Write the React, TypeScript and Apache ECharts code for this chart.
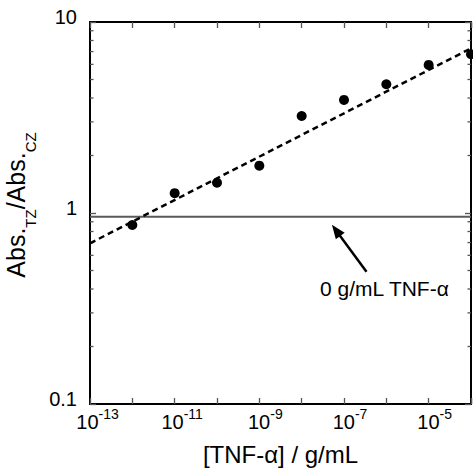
import React, { useEffect, useRef } from 'react';
import * as echarts from 'echarts';

// ---- data ----
const concentrations = [1e-12, 1e-11, 1e-10, 1e-9, 1e-8, 1e-7, 1e-6, 1e-5, 1e-4];
const ratios = [0.865, 1.27, 1.44, 1.77, 3.22, 3.91, 4.72, 5.96, 6.78];
const fitX = [1e-13, 1e-4];
const fitY = [0.694, 7.28];
const blankLevel = 0.957;
const xRange = [1e-13, 1e-4];
const yRange = [0.1, 10];
const yMinorTicks = [0.2, 0.3, 0.4, 0.5, 0.6, 0.7, 0.8, 0.9, 2, 3, 4, 5, 6, 7, 8, 9];
const arrowTail = [3.4e-7, 0.493];
const arrowHead = [6.5e-8, 0.81];
const annotationText = '0 g/mL TNF-α';
const xTitle = '[TNF-α] / g/mL';

const FONT = '"Liberation Sans", Arial, sans-serif';

export default function App() {
  const ref = useRef<HTMLDivElement>(null);

  useEffect(() => {
    if (!ref.current) return;
    const chart = echarts.init(ref.current, undefined, { renderer: 'svg' });

    const commonX = {
      type: 'log' as const,
      logBase: 10,
      min: xRange[0],
      max: xRange[1],
      splitLine: { show: false },
      axisLine: { show: true, onZero: false, lineStyle: { color: '#000', width: 2 } },
      axisTick: { show: true, inside: true, length: 6, lineStyle: { color: '#555', width: 1.3 } },
      minorTick: { show: false },
    };
    const commonY = {
      type: 'log' as const,
      logBase: 10,
      min: yRange[0],
      max: yRange[1],
      splitLine: { show: false },
      axisLine: { show: true, onZero: false, lineStyle: { color: '#000', width: 2 } },
      axisTick: { show: true, inside: true, length: 6, lineStyle: { color: '#555', width: 1.3 } },
      minorTick: { show: false },
    };

    const option: any = {
      animation: false,
      textStyle: { fontFamily: FONT },
      grid: { left: 90, right: 2, top: 22, bottom: 72, containLabel: false, outerBoundsMode: 'none' },
      xAxis: [
        {
          ...commonX,
          position: 'bottom',
          name: xTitle,
          nameLocation: 'middle',
          nameGap: 38,
          nameTextStyle: { fontSize: 24, color: '#000', fontFamily: FONT },
          axisLabel: {
            show: true,
            interval: 0,
            margin: 3,
            color: '#000',
            fontFamily: FONT,
            formatter: (v: number) => {
              const e = Math.round(Math.log10(v));
              if (Math.abs(e % 2) !== 1) return '';
              const es = String(e);
              return es.length > 2 ? `{b3|10}{s|${es}}` : `{b2|10}{s|${es}}`;
            },
            rich: {
              b3: { fontSize: 20, lineHeight: 20, padding: [5, 0, 0, 15], verticalAlign: 'top', color: '#000', fontFamily: FONT },
              b2: { fontSize: 20, lineHeight: 20, padding: [5, 0, 0, 12], verticalAlign: 'top', color: '#000', fontFamily: FONT },
              s: { fontSize: 14, lineHeight: 14, verticalAlign: 'top', color: '#000', fontFamily: FONT },
            },
          },
        },
        {
          ...commonX,
          position: 'top',
          axisLabel: { show: false },
        },
      ],
      yAxis: [
        {
          ...commonY,
          position: 'left',
          name: '{a|Abs.}{s|TZ}{a|/Abs.}{s|CZ}',
          nameLocation: 'middle',
          nameRotate: 90,
          nameGap: 43,
          nameTextStyle: {
            padding: [0, 0, 0, 16],
            rich: {
              a: { fontSize: 25, lineHeight: 28, verticalAlign: 'top', color: '#000', fontFamily: FONT },
              s: { fontSize: 15, lineHeight: 15, padding: [20, 0, 0, 0], verticalAlign: 'top', color: '#000', fontFamily: FONT },
            },
          },
          axisLabel: {
            show: true,
            margin: 13,
            fontSize: 20,
            lineHeight: 10,
            verticalAlign: 'bottom',
            color: '#000',
            fontFamily: FONT,
            formatter: (v: number) => String(v),
          },
        },
        {
          ...commonY,
          position: 'right',
          axisLabel: { show: false },
        },
      ],
      series: [
        {
          type: 'custom',
          xAxisIndex: 0,
          yAxisIndex: 0,
          silent: true,
          clip: false,
          data: yMinorTicks.map((v) => [xRange[0], v]),
          renderItem: (params: any, api: any) => {
            const p = api.coord([api.value(0), api.value(1)]);
            const cs = params.coordSys;
            const st = { stroke: '#555', lineWidth: 1.3 };
            return {
              type: 'group',
              children: [
                { type: 'line', shape: { x1: cs.x, y1: p[1], x2: cs.x + 3.5, y2: p[1] }, style: st },
                { type: 'line', shape: { x1: cs.x + cs.width - 3.5, y1: p[1], x2: cs.x + cs.width, y2: p[1] }, style: st },
              ],
            };
          },
        },
        {
          type: 'line',
          xAxisIndex: 0,
          yAxisIndex: 0,
          data: xRange.map((x) => [x, blankLevel]),
          showSymbol: false,
          symbol: 'none',
          lineStyle: { color: '#5a5a5a', width: 2 },
          silent: true,
          z: 2,
          markLine: {
            silent: true,
            symbol: ['none', 'triangle'],
            symbolSize: [11, 14],
            label: { show: false },
            lineStyle: { color: '#000', width: 2.5, type: 'solid' },
            data: [[{ coord: arrowTail }, { coord: arrowHead }]],
          },
        },
        {
          type: 'line',
          xAxisIndex: 0,
          yAxisIndex: 0,
          data: fitX.map((x, i) => [x, fitY[i]]),
          showSymbol: false,
          symbol: 'none',
          lineStyle: { color: '#000', width: 2.5, type: [6, 4] },
          silent: true,
          z: 3,
        },
        {
          type: 'scatter',
          xAxisIndex: 0,
          yAxisIndex: 0,
          data: concentrations.map((x, i) => [x, ratios[i]]),
          symbol: 'circle',
          symbolSize: 10,
          itemStyle: { color: '#000', opacity: 1 },
          z: 4,
        },
      ],
      graphic: [
        {
          type: 'text',
          left: 320,
          top: 278,
          style: { text: annotationText, font: `21px ${FONT}`, fill: '#000' },
          silent: true,
        },
      ],
    };

    chart.setOption(option);
    return () => chart.dispose();
  }, []);

  return (
    <div
      ref={ref}
      style={{ position: 'absolute', left: 0, top: 0, width: 473, height: 476 }}
    />
  );
}
